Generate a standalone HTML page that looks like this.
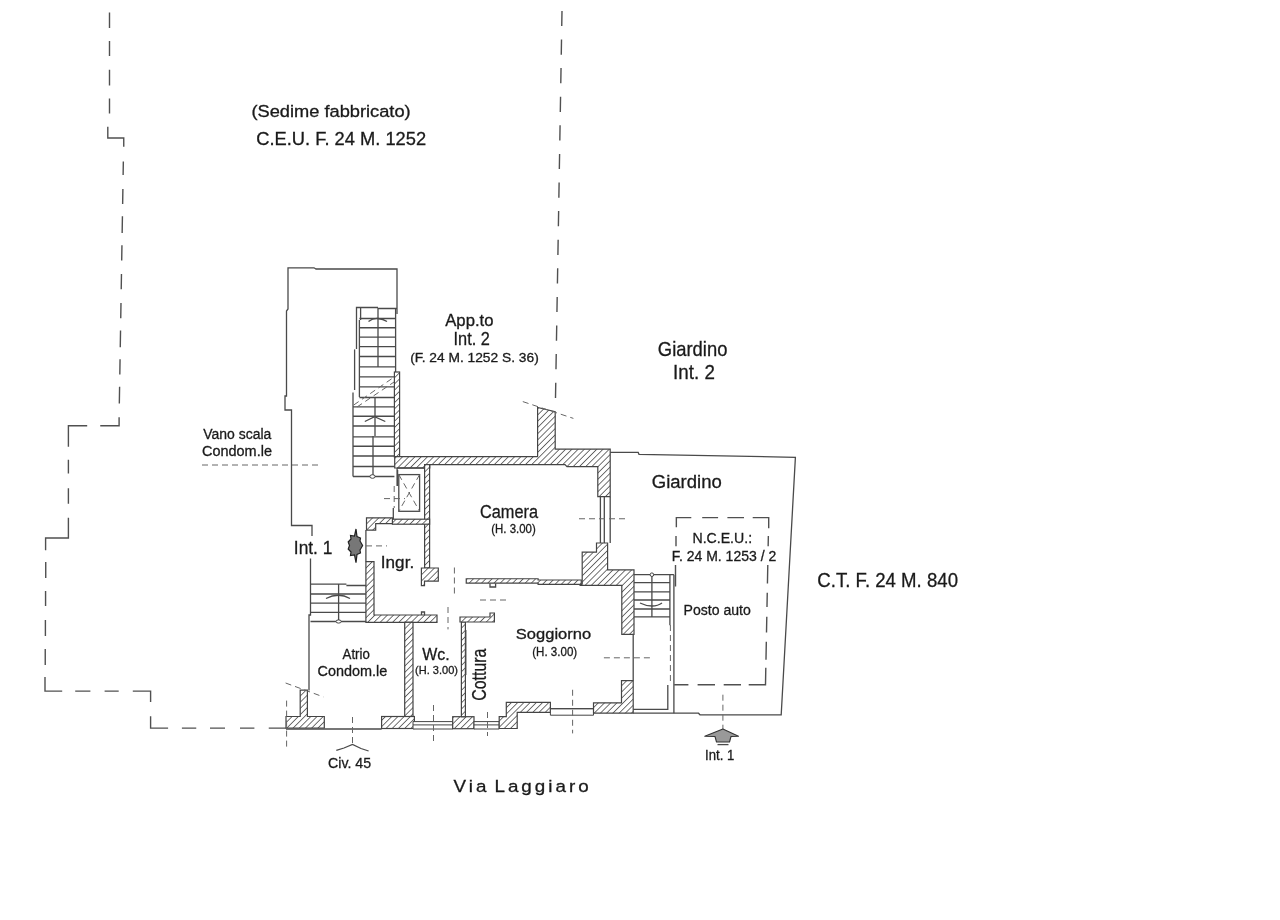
<!DOCTYPE html>
<html><head><meta charset="utf-8">
<style>
html,body{margin:0;padding:0;background:#fff;width:1280px;height:920px;overflow:hidden}
svg{display:block;will-change:transform}
text{font-family:"Liberation Sans",sans-serif;fill:#1a1a1a;stroke:#1a1a1a;stroke-width:0.3}
.l{fill:none;stroke:#4a4a4a;stroke-width:1.3}
.d{fill:none;stroke:#555;stroke-width:1.2;stroke-dasharray:17 10}
.dl{fill:none;stroke:#505050;stroke-width:1.4}
.ds{fill:none;stroke:#666;stroke-width:1;stroke-dasharray:6 4}
.h{fill:url(#hat);stroke:#444;stroke-width:1.2}
.t{fill:#fff;stroke:#444;stroke-width:1}
</style></head>
<body>
<svg width="1280" height="920" viewBox="0 0 1280 920">
<defs>
<pattern id="hat" patternUnits="userSpaceOnUse" width="4.4" height="4.4" patternTransform="rotate(45)">
<rect width="4.4" height="4.4" fill="#fff"/>
<line x1="0" y1="0" x2="0" y2="4.4" stroke="#505050" stroke-width="1.6"/>
</pattern>
</defs>
<path class="dl" d="M109.5,12.4 V27.9 M109.5,41 V56 M109.5,69.75 V85.4 M109.5,98.4 V113.4 M107.8,126.7 V138 H123.75 V146.75 M123.34,161.4 L123.12,175.1 M122.89,189 L122.64,204 M122.43,216.3 L122.16,233 M121.95,245.2 L121.70,260.4 M121.47,274 L121.22,289.3 M120.99,303 L120.74,318.2 M120.54,330.4 L120.26,347.2 M120.06,359.3 L119.81,374.5 M119.60,386.7 L119.32,403.5 M119.1,417.3 V425.8 H100.25 M87.2,425.8 H68.4 V446.7 M68.4,459.75 V473.6 M68.4,488.3 V503.8 M68.4,517.7 V538 H45.6 V550.3 M45.73,562 V578 M45.57,591 V606 M45.40,620 V636 M45.24,649 V665 M45,677 V691.1 H62.2 M75.2,691.1 H90.4 M104.6,691.1 H118.7 M132.8,691.1 H150.6 V702 M150.6,716.25 V728.1 H168.1 M181.9,728.1 H196.25 M210,728.1 H225 M240,728.1 H254.4 M268.75,728.1 H286 M562.00,10.9 L561.74,26.1 M561.52,39.5 L561.26,54.7 M561.04,68.1 L560.78,83.3 M560.56,96.7 L560.30,111.9 M560.08,125.3 L559.82,140.5 M559.60,153.9 L559.34,169.1 M559.12,182.5 L558.86,197.7 M558.64,211.1 L558.38,226.3 M558.16,239.7 L557.90,254.9 M557.68,268.3 L557.42,283.5 M557.20,296.9 L556.94,312.1 M556.72,325.5 L556.46,340.7 M556.24,354.1 L555.98,369.3 M555.76,382.7 L555.50,397.9 M676.35,527.2 V517.6 H691.3 M702.2,517.6 H718.1 M727.4,517.6 H744 M752.7,517.6 H768.7 V528.2 M768.35,536 L768.15,546.3 M767.79,564.9 L767.44,583.4 M767.26,592.7 L766.99,607 M766.80,616.7 L766.50,632.5 M766.32,641.7 L765.98,659.7 M765.8,667.8 L765.5,684.8 H748.7 M741,684.8 H723.7 M715,684.8 H697.6 M688.4,684.8 H674.2 M676,536 V546.3 M675.5,564.9 V586.5"/>
<path class="l" d="M397,314 V269 H316 L314,267.8 H288 V309 L286.5,311 V396 H285 V410 H291.5 V525.5 H312 V536"/>
<path class="l" d="M310.5,558.5 V615 H309 V690.5"/>
<path class="l" d="M356.5,349 V307.5 H378 M378,308.5 H397 M360.6,308 V320 M359.4,320 V397 M378,308 V367 M395.6,308 V372 M359.4,318.5 H395.6 M359.4,327.75 H395.6 M359.4,337.1 H395.6 M359.4,346.6 H395.6 M359.4,356.5 H395.6 M359.4,366.9 H395.6 M359.4,376.9 H395.6 M359.4,386.9 H395.6 M359.4,397.5 H395.6 M353,392.5 V476.5 M375,397 V436 M373,436 V476.5 M353,406.9 H394.4 M353,416.25 H394.4 M353,426 H394.4 M353,436.9 H394.4 M353,446.25 H394.4 M353,456 H394.4 M353,466.5 H394.4 M353,476.5 H394.4"/>
<path class="l" stroke-width="1.8" d="M354.6,349.4 V390"/>
<ellipse cx="372.5" cy="476.5" rx="2.6" ry="1.8" fill="#fff" stroke="#444" stroke-width="1"/>
<path class="ds" d="M353.75,405 L400,373 M357,407 L400,378"/>
<path class="l" stroke-width="1.1" d="M368.5,321.5 Q373,318 378,318.5 Q383,319 387,321.5"/>
<path class="l" stroke-width="1.1" d="M364.8,421.5 L374.6,416.6 L385.3,421.5"/>
<rect class="h" x="394.4" y="372" width="5.2" height="85"/>
<path class="h" d="M394.7,456.6 H537.6 V407.4 L555.2,411.7 V449.2 H610.2 V496.7 H597.8 V466.7 H567 L565,464.6 H429.75 V468 H394.7 Z"/>
<path class="ds" d="M522.8,401.6 L573.4,418.4"/>
<path class="l" d="M610.2,452.4 H638.2 L639,454.3 L795.4,457.3 L781.2,714.8 H700 L698.5,713.2 H633.2"/>
<rect class="h" x="424.6" y="464.6" width="5" height="103.4"/>
<rect class="h" x="392.4" y="519.2" width="37.2" height="5"/>
<path class="l" d="M397.1,468 V486 M397.1,468 H424.6 M393.3,508 V519.2"/>
<rect class="l" x="398.8" y="474.6" width="20.8" height="36.7"/>
<path class="ds" d="M398.8,474.6 L419.6,511.3 M419.6,474.6 L398.8,511.3"/>
<path class="l" stroke-width="2.2" d="M397.6,470 V486"/>
<path class="ds" d="M394.2,486 V508"/>
<path class="ds" d="M384,498.6 H405"/>
<path class="ds" d="M202,465 H319"/>
<path class="h" d="M366.5,517.8 H392.4 V523.7 H375.7 V530.2 H366.5 Z"/>
<path class="l" d="M365.9,530 V561.6"/>
<path class="h" d="M365.9,561.6 H374 V615 H437 V622.3 H365.9 Z"/>
<path class="l" d="M421.5,615 V612 H424.5 V615"/>
<path class="ds" d="M366,545.9 H387"/>
<path class="h" d="M421.4,568 H438.3 V581.1 H424.5 V585.7 H421.4 Z"/>
<path class="l" d="M310.5,584.1 H346.4 M346.4,585.5 H366.2 M338.6,584.1 V621.5 M310.5,594 H366.2 M310.5,603.2 H366.2 M310.5,612.4 H366.2 M310.5,621.5 H366.2"/>
<ellipse cx="338.6" cy="621.5" rx="2.6" ry="1.6" fill="#fff" stroke="#444" stroke-width="1"/>
<path class="l" stroke-width="1.1" d="M326,598.5 Q338.6,592 350,598.5"/>
<rect class="h" x="404.7" y="622.3" width="8.3" height="94.4"/>
<path class="h" d="M300.2,690.2 H307.4 V716.5 H324.3 V728 H286 V716.5 H300.2 Z"/>
<rect class="h" x="381.6" y="716.5" width="32.8" height="12"/>
<path class="t" d="M413,721.6 H452.7 V729 H413 Z M413,724.9 H452.7"/>
<rect class="h" x="452.7" y="716.7" width="21.3" height="12"/>
<rect class="h" x="461.4" y="622" width="4" height="94.7"/>
<path class="l" stroke-width="1.8" d="M465.8,630 V675"/>
<path class="h" d="M460,617 H490 V613 H494.4 V622 H460 Z"/>
<path class="t" d="M474,721.6 H499.2 V729 H474 Z M474,724.9 H499.2"/>
<path class="h" d="M499.2,716.7 H506.3 V702.4 H550.4 V712.3 H517.2 V728.5 H499.2 Z"/>
<path class="t" d="M550.4,708.7 H593.5 V715.2 H550.4 Z"/>
<path class="l" stroke-width="1.8" d="M550.4,708.7 H593.5"/>
<path class="h" d="M593.5,702.8 H621.5 V680.6 H633.2 V713.2 H593.5 Z"/>
<path class="l" d="M286,729 H381.6"/>
<path class="h" d="M466.25,578.75 H538.1 V580 H581.25 V584.4 H538.1 V583.1 H466.25 Z"/>
<path class="l" d="M490,583.5 V587 H495.6 V583.5"/>
<path class="l" d="M600.4,496.7 V543 M604.3,496.7 V543 M610.2,496.7 V543"/>
<path class="h" d="M596.5,543 H607.6 V569.9 H634 V634.3 H621.8 V585.3 H580.6 L582.2,584 V552.1 H596.5 Z"/>
<path class="ds" d="M579,518.75 H625"/>
<path class="ds" d="M454.4,567.5 V594 M448,607 V629.4"/>
<path class="ds" d="M480,600 H506"/>
<path class="ds" d="M603.9,657.8 H650.2"/>
<path class="ds" d="M572.6,689.75 V733.4"/>
<path class="ds" d="M286.6,700.6 V747.7 M352.5,717 V744 M433.5,705 V744 M487.5,712 V736"/>
<path class="ds" d="M285.6,683 L323.4,696.9"/>
<path class="l" stroke-width="1.8" d="M336.3,750.4 L344,748 L352.5,744.4 L361,748.5 L368.6,751"/>
<path class="l" d="M633.2,634.3 V680.6"/>
<path class="l" d="M651.9,574.7 V616.8 M669.9,574.7 V625.3 M634,574.7 H673.9 M673.9,574.7 V713.2 M634,582.6 H669.9 M634,591.9 H669.9 M634,600 H669.9 M634,609 H669.9 M634,616.8 H669.9"/>
<circle cx="651.9" cy="574.7" r="1.8" fill="#fff" stroke="#444" stroke-width="1"/>
<path class="l" stroke-width="1.1" d="M640,603 Q646,606 651.9,606 Q658,606 662,603"/>
<path class="l" d="M633.2,709.3 H667.8 V685"/>
<path class="ds" d="M670.4,625 V684"/>
<path class="ds" d="M722.9,694.7 V729"/>
<path fill="#999" stroke="#333" stroke-width="1.1" stroke-linejoin="round" d="M704.8,736.3 L722.9,729 L738.5,736.3 L731,736.5 L729.5,742 H716.5 L715,736.5 Z"/>
<path class="l" stroke-width="1.4" d="M717.5,744.6 H728.5"/>
<path fill="#777" stroke="#222" stroke-width="1.2" stroke-linejoin="miter" d="M356,529 L357,536.5 L360.5,538 L360,541 L362.6,545.5 L360,550 L360.5,553 L357,554.5 L356,562.7 L354.5,555 L350.5,555.5 L351,552 L348.2,549 L349.5,545.5 L348.2,542 L351,539 L350.5,535.5 L354.5,536 Z"/>
<text x="251.40" y="116.69" font-size="15.74" textLength="159.30" lengthAdjust="spacingAndGlyphs">(Sedime fabbricato)</text>
<text x="256.28" y="144.52" font-size="18.31" textLength="169.86" lengthAdjust="spacingAndGlyphs">C.E.U. F. 24 M. 1252</text>
<text x="445.25" y="326.10" font-size="15.72" textLength="48.19" lengthAdjust="spacingAndGlyphs">App.to</text>
<text x="453.53" y="345.07" font-size="17.61" textLength="36.35" lengthAdjust="spacingAndGlyphs">Int. 2</text>
<text x="410.17" y="362.02" font-size="12.77" textLength="128.62" lengthAdjust="spacingAndGlyphs">(F. 24 M. 1252 S. 36)</text>
<text x="657.83" y="356.00" font-size="19.59" textLength="69.60" lengthAdjust="spacingAndGlyphs">Giardino</text>
<text x="673.11" y="379.01" font-size="19.30" textLength="41.70" lengthAdjust="spacingAndGlyphs">Int. 2</text>
<text x="203.26" y="438.86" font-size="14.32" textLength="68.09" lengthAdjust="spacingAndGlyphs">Vano scala</text>
<text x="201.98" y="456.46" font-size="14.32" textLength="69.99" lengthAdjust="spacingAndGlyphs">Condom.le</text>
<text x="651.77" y="487.71" font-size="18.65" textLength="69.96" lengthAdjust="spacingAndGlyphs">Giardino</text>
<text x="479.88" y="517.81" font-size="18.59" textLength="58.16" lengthAdjust="spacingAndGlyphs">Camera</text>
<text x="491.31" y="532.63" font-size="12.23" textLength="44.47" lengthAdjust="spacingAndGlyphs">(H. 3.00)</text>
<text x="692.47" y="543.15" font-size="14.51" textLength="59.59" lengthAdjust="spacingAndGlyphs">N.C.E.U.:</text>
<text x="671.88" y="560.96" font-size="13.92" textLength="104.40" lengthAdjust="spacingAndGlyphs">F. 24 M. 1253 / 2</text>
<text x="293.84" y="554.11" font-size="19.14" textLength="38.59" lengthAdjust="spacingAndGlyphs">Int. 1</text>
<text x="380.86" y="567.57" font-size="16.33" textLength="33.28" lengthAdjust="spacingAndGlyphs">Ingr.</text>
<text x="817.37" y="587.30" font-size="20.28" textLength="140.65" lengthAdjust="spacingAndGlyphs">C.T. F. 24 M. 840</text>
<text x="683.57" y="615.05" font-size="15.14" textLength="67.31" lengthAdjust="spacingAndGlyphs">Posto auto</text>
<text x="515.87" y="639.25" font-size="15.00" textLength="75.27" lengthAdjust="spacingAndGlyphs">Soggiorno</text>
<text x="532.21" y="656.01" font-size="12.34" textLength="44.99" lengthAdjust="spacingAndGlyphs">(H. 3.00)</text>
<text x="342.60" y="659.36" font-size="14.32" textLength="27.21" lengthAdjust="spacingAndGlyphs">Atrio</text>
<text x="317.53" y="675.85" font-size="14.73" textLength="69.84" lengthAdjust="spacingAndGlyphs">Condom.le</text>
<text x="422.24" y="659.93" font-size="16.57" textLength="27.42" lengthAdjust="spacingAndGlyphs">Wc.</text>
<text x="415.04" y="674.33" font-size="11.28" textLength="42.93" lengthAdjust="spacingAndGlyphs">(H. 3.00)</text>
<text x="0" y="0" font-size="20.85" textLength="52.29" lengthAdjust="spacingAndGlyphs" transform="translate(486.09,700.80) rotate(-90)">Cottura</text>
<text x="705.07" y="759.61" font-size="13.93" textLength="29.24" lengthAdjust="spacingAndGlyphs">Int. 1</text>
<text x="328.09" y="767.50" font-size="15.20" textLength="43.05" lengthAdjust="spacingAndGlyphs">Civ. 45</text>
<text x="453.56" y="792.09" font-size="16.70" style="letter-spacing:0.16em;word-spacing:-0.17em" textLength="138.13" lengthAdjust="spacingAndGlyphs">Via Laggiaro</text>
</svg>
</body></html>
